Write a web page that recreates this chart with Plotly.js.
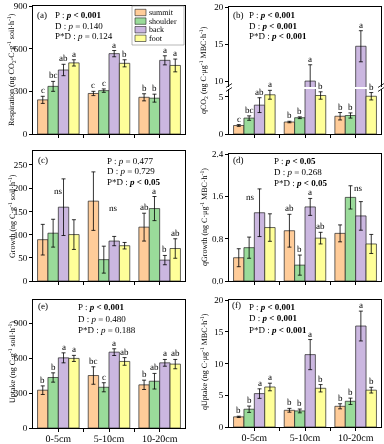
<!DOCTYPE html>
<html><head><meta charset="utf-8">
<script src="https://cdn.plot.ly/plotly-3.0.1.min.js"></script>
<style>
html,body{margin:0;padding:0;background:#fff}
#chart{width:384px;height:444px;will-change:transform;opacity:0.999}
#chart text{-webkit-font-smoothing:antialiased;text-rendering:geometricPrecision}
</style>
</head><body><div id="chart"></div>
<script>
const categories = ['0-5cm', '5-10cm', '10-20cm'];
const positions = ['summit', 'shoulder', 'back', 'foot'];
const colors = ['#FFCC99', '#9ADB9A', '#CBB7E0', '#FFFF99'];

// rows = summit, shoulder, back, foot ; columns = depth categories
const respMean = [[240, 285, 258], [335, 305, 252], [450, 565, 518], [500, 497, 482]];
const respErr  = [[25, 15, 25], [35, 12, 28], [40, 22, 32], [22, 25, 45]];
const respLet  = [['c', 'c', 'b'], ['bc', 'c', 'b'], ['ab', 'a', 'a'], ['a', 'b', 'a']];

const qco2Mean = [[1.15, 1.62, 2.4], [2.15, 2.2, 2.5], [3.9, 10.0, 14.7], [5.3, 5.2, 5.1]];
const qco2Err  = [[0.12, 0.1, 0.5], [0.3, 0.12, 0.35], [1.0, 2.2, 2.1], [0.6, 0.5, 0.5]];
const qco2Let  = [['c', 'b', 'b'], ['bc', 'b', 'b'], ['ab', 'a', 'a'], ['a', 'b', 'b']];

const growthMean = [[89, 172, 116], [103, 46, 156], [159, 86, 45], [100, 76, 70]];
const growthErr  = [[33, 63, 30], [30, 29, 26], [61, 10, 10], [32, 7, 21]];
const growthLet  = [['', '', 'ab'], ['', '', 'a'], ['', '', 'b'], ['', '', 'ab']];

const qgrowthMean = [[0.44, 0.95, 0.90], [0.63, 0.30, 1.58], [1.29, 1.40, 1.23], [1.01, 0.81, 0.70]];
const qgrowthErr  = [[0.17, 0.31, 0.16], [0.2, 0.19, 0.22], [0.45, 0.16, 0.27], [0.26, 0.11, 0.18]];
const qgrowthLet  = [['', 'ab', ''], ['', 'b', ''], ['', 'a', ''], ['', 'ab', '']];

const uptakeMean = [[325, 451, 371], [434, 350, 402], [603, 652, 560], [598, 572, 549]];
const uptakeErr  = [[37, 75, 40], [40, 39, 67], [43, 29, 29], [26, 33, 40]];
const uptakeLet  = [['b', 'bc', 'b'], ['b', 'c', 'ab'], ['a', 'a', 'a'], ['a', 'ab', 'ab']];

const quptakeMean = [[1.6, 2.63, 3.26], [2.8, 2.53, 4.05], [5.26, 11.4, 15.9], [6.3, 6.1, 5.8]];
const quptakeErr  = [[0.1, 0.3, 0.4], [0.5, 0.3, 0.5], [0.75, 2.37, 2.35], [0.6, 0.58, 0.45]];
const quptakeLet  = [['b', 'b', 'b'], ['b', 'b', 'b'], ['a', 'a', 'a'], ['a', 'b', 'b']];

const statsA = ['P : <b><i>p</i> &lt; 0.001</b>', 'D : <i>p</i> = 0.140', 'P*D : <i>p</i> = 0.124'];
const statsB = ['P : <b><i>p</i> &lt; 0.001</b>', 'D : <b><i>p</i> &lt; 0.001</b>', 'P*D : <b><i>p</i> &lt; 0.001</b>'];
const statsC = ['P : <i>p</i> = 0.477', 'D : <i>p</i> = 0.729', 'P*D : <b><i>p</i> &lt; 0.05</b>'];
const statsD = ['P : <b><i>p</i> &lt; 0.05</b>', 'D : <i>p</i> = 0.268', 'P*D : <b><i>p</i> &lt; 0.05</b>'];
const statsE = ['P : <b><i>p</i> &lt; 0.001</b>', 'D : <i>p</i> = 0.480', 'P*D : <i>p</i> = 0.188'];
const statsF = ['P : <b><i>p</i> &lt; 0.001</b>', 'D : <b><i>p</i> &lt; 0.001</b>', 'P*D : <b><i>p</i> &lt; 0.001</b>'];

const FONT = 'Liberation Serif, Times New Roman, serif';
const W = 384, H = 444;
const px = x => x / W;
const py = y => 1 - y / H;
const xIdx = categories.map((c, i) => i);
const BW = 0.82 / 4;
const traces = [], ann = [], shapes = [];

function addBars(xa, ya, means, errs) {
  means.forEach((m, j) => {
    traces.push({
      type: 'bar', x: xIdx, y: m, xaxis: xa, yaxis: ya, name: positions[j],
      marker: { color: colors[j], line: { color: '#222', width: 0.7 } },
      error_y: { type: 'data', array: errs[j], color: '#000', thickness: 0.8, width: 2 },
      showlegend: false, hoverinfo: 'none'
    });
  });
}
function addLetters(means, errs, letters, refFn) {
  letters.forEach((row, j) => row.forEach((l, i) => {
    if (!l) return;
    const y = means[j][i] + errs[j][i];
    const r = refFn(y);
    ann.push({ xref: r[0], yref: r[1], x: i + (j - 1.5) * BW, y: y, text: l, showarrow: false,
      yanchor: 'bottom', borderpad: 0, font: { family: FONT, size: 9, color: 'rgb(0,0,0)' } });
  }));
}
function addText(x, y, text, size, anchor) {
  ann.push({ xref: 'paper', yref: 'paper', x: px(x), y: py(y), text: text, showarrow: false,
    xanchor: anchor || 'left', yanchor: 'middle', borderpad: 0, font: { family: FONT, size: size || 9, color: '#000' } });
}
function addStats(x, ys, lines) { lines.forEach((t, k) => addText(x, ys[k], t, 9)); }
function addYTitle(x, y, text) {
  ann.push({ xref: 'paper', yref: 'paper', x: px(x), y: py(y), text: text, showarrow: false, textangle: -90,
    xanchor: 'center', yanchor: 'middle', borderpad: 0, font: { family: FONT, size: 8, color: '#000' } });
}

// panels
addBars('x', 'y', respMean, respErr);
addLetters(respMean, respErr, respLet, () => ['x', 'y']);
addBars('x2', 'y2', qco2Mean, qco2Err);
addBars('x7', 'y7', qco2Mean, qco2Err);
addLetters(qco2Mean, qco2Err, qco2Let, y => y > 6.08 ? ['x7', 'y7'] : ['x2', 'y2']);
addBars('x3', 'y3', growthMean, growthErr);
addLetters(growthMean, growthErr, growthLet, () => ['x3', 'y3']);
addBars('x4', 'y4', qgrowthMean, qgrowthErr);
addLetters(qgrowthMean, qgrowthErr, qgrowthLet, () => ['x4', 'y4']);
addBars('x5', 'y5', uptakeMean, uptakeErr);
addLetters(uptakeMean, uptakeErr, uptakeLet, () => ['x5', 'y5']);
addBars('x6', 'y6', quptakeMean, quptakeErr);
addLetters(quptakeMean, quptakeErr, quptakeLet, () => ['x6', 'y6']);

// ns labels
[['x3', 'y3', 0, 193], ['x3', 'y3', 1.08, 158], ['x4', 'y4', -0.08, 1.59], ['x4', 'y4', 2.05, 1.75]].forEach(n => {
  ann.push({ xref: n[0], yref: n[1], x: n[2], y: n[3], text: 'ns', showarrow: false, yanchor: 'middle',
    borderpad: 0, font: { family: FONT, size: 9, color: '#000' } });
});

// panel letters and stats
addText(36, 15, '(a)'); addStats(54, [15, 25.5, 36], statsA);
addText(232, 15, '(b)'); addStats(248, [15, 25.5, 36], statsB);
addText(37, 160, '(c)'); addStats(106, [160.5, 171, 181.5], statsC);
addText(232, 160, '(d)'); addStats(273, [160.5, 172, 183], statsD);
addText(37, 306, '(e)'); addStats(77, [306.5, 318.5, 330], statsE);
addText(231, 305, '(f)'); addStats(248, [306.5, 318, 329.5], statsF);

// y titles
addYTitle(12, 70, 'Respiration (ng CO<sub>2</sub>-C·g<sup>-1</sup> soil·h<sup>-1</sup>)');
addYTitle(204, 70, 'qCO<sub>2</sub> (ng C·μg<sup>-1</sup> MBC·h<sup>-1</sup>)');
addYTitle(12, 216, 'Growth (ng C·g<sup>-1</sup> soil·h<sup>-1</sup>)');
addYTitle(204, 217, 'qGrowth (ng C·μg<sup>-1</sup> MBC·h<sup>-1</sup>)');
addYTitle(12, 362, 'Uptake (ng C·g<sup>-1</sup> soil·h<sup>-1</sup>)');
addYTitle(204, 362, 'qUptake (ng C·μg<sup>-1</sup> MBC·h<sup>-1</sup>)');

// manual legend
shapes.push({ type: 'rect', xref: 'paper', yref: 'paper', x0: px(132), x1: px(184), y0: py(45), y1: py(6),
  line: { color: '#888', width: 0.6 }, fillcolor: '#fff' });
positions.forEach((p, j) => {
  const yc = 12.5 + j * 8.6;
  shapes.push({ type: 'rect', xref: 'paper', yref: 'paper', x0: px(135), x1: px(146), y0: py(yc + 3.2), y1: py(yc - 3.2),
    line: { color: '#222', width: 0.6 }, fillcolor: colors[j] });
  addText(148, yc, p, 8);
});

// axis-break marks on panel b
[229, 381].forEach(x => {
  [85.5, 89.5].forEach(yc => {
    shapes.push({ type: 'line', xref: 'paper', yref: 'paper', x0: px(x - 3), y0: py(yc + 2), x1: px(x + 3), y1: py(yc - 2),
      line: { color: '#000', width: 0.8 } });
  });
});

const xL = [px(33), px(185)], xR = [px(229), px(381)];
const rowA = [py(134), py(6)];
const rowC = [py(281), py(151)], rowD = [py(281), py(154)];
const rowE = [py(428), py(300)], rowF = [py(427), py(300)];
const bLow = [py(134), py(89)], bUp = [py(87), py(7)];

function xAxis(domain, anchor, labels, extra) {
  return Object.assign({
    domain: domain, anchor: anchor, range: [-0.5, 2.5], tickmode: 'array',
    tickvals: xIdx, ticktext: categories, showticklabels: labels,
    ticks: 'outside', ticklen: 3, tickwidth: 1, tickcolor: '#000', ticklabelstandoff: -2,
    minor: { tickmode: 'array', tickvals: [0.5, 1.5], ticks: 'outside', ticklen: 3, tickwidth: 1, tickcolor: '#000', showgrid: false },
    showline: true, linecolor: '#000', linewidth: 1, mirror: true,
    showgrid: false, zeroline: false, fixedrange: true,
    tickfont: { family: FONT, size: 10, color: '#000' }
  }, extra || {});
}
function yAxis(domain, anchor, range, tickvals, extra) {
  return Object.assign({
    domain: domain, anchor: anchor, range: range, tickmode: 'array', tickvals: tickvals,
    ticks: 'outside', ticklen: 3, tickwidth: 1, tickcolor: '#000',
    showline: true, linecolor: '#000', linewidth: 1, mirror: true,
    showgrid: false, zeroline: false, fixedrange: true,
    tickfont: { family: FONT, size: 9, color: '#000' }
  }, extra || {});
}

const layout = {
  width: W, height: H, margin: { l: 0, r: 0, t: 0, b: 0, pad: 0 },
  paper_bgcolor: '#fff', plot_bgcolor: '#fff',
  barmode: 'group', bargap: 0.18, bargroupgap: 0, showlegend: false,
  font: { family: FONT, color: '#000' },
  xaxis: xAxis(xL, 'y', false), yaxis: yAxis(rowA, 'x', [0, 900], [0, 300, 600, 900]),
  xaxis2: xAxis(xR, 'y2', false, { mirror: false }), yaxis2: yAxis(bLow, 'x2', [0, 6.08], [0, 5]),
  xaxis7: xAxis(xR, 'y7', false, { side: 'top', ticks: '', minor: { ticks: '' }, mirror: false }),
  yaxis7: yAxis(bUp, 'x7', [9.2, 20], [10, 15, 20]),
  xaxis3: xAxis(xL, 'y3', false), yaxis3: yAxis(rowC, 'x3', [0, 280], [0, 50, 100, 150, 200, 250]),
  xaxis4: xAxis(xR, 'y4', false), yaxis4: yAxis(rowD, 'x4', [0, 2.4], [0, 0.8, 1.6, 2.4], { tickformat: '.1f' }),
  xaxis5: xAxis(xL, 'y5', true), yaxis5: yAxis(rowE, 'x5', [0, 1100], [0, 300, 600, 900]),
  xaxis6: xAxis(xR, 'y6', true), yaxis6: yAxis(rowF, 'x6', [0, 20], [0, 5, 10, 15, 20]),
  annotations: ann, shapes: shapes
};

Plotly.newPlot('chart', traces, layout, { displayModeBar: false, staticPlot: true });
</script></body></html>
